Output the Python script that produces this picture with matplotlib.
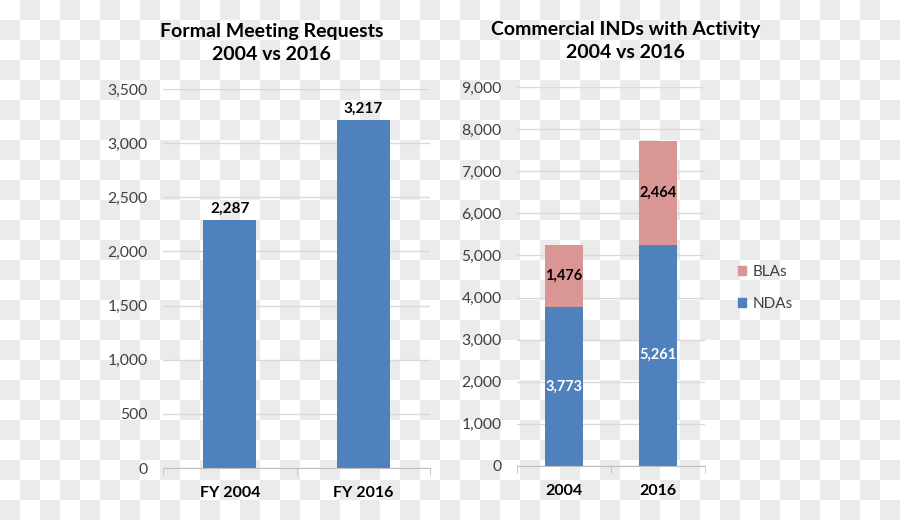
import numpy as np
import matplotlib
matplotlib.use("Agg")
import matplotlib.pyplot as plt
from matplotlib.patches import Patch

plt.rcParams['font.family'] = ['Lato', 'DejaVu Sans']

# ---- data ----
left_title = "Formal Meeting Requests\n2004 vs 2016"
left_cats = ["FY 2004", "FY 2016"]
left_vals = [2287, 3217]
left_ticks = [0, 500, 1000, 1500, 2000, 2500, 3000, 3500]

right_title = "Commercial INDs with Activity\n2004 vs 2016"
right_cats = ["2004", "2016"]
ndas = [3773, 5261]
blas = [1476, 2464]
right_ticks = [0, 1000, 2000, 3000, 4000, 5000, 6000, 7000, 8000, 9000]

BLUE = "#4f81bd"
PINK = "#d99694"
GRID = "#d9d9d9"

W, H = 900, 520
fig = plt.figure(figsize=(9, 5.2), dpi=100)

# checkerboard background (transparency pattern)
yy, xx = np.mgrid[0:H, 0:W]
chk = ((xx // 20 + yy // 20) % 2).astype(float)
bg = np.where(chk[..., None] == 1, np.array([0.925, 0.925, 0.925]), np.array([1.0, 1.0, 1.0]))
fig.figimage(bg, xo=0, yo=0, origin='upper', zorder=-10)


def ax_rect(x0, x1, ytop, ybot):
    return [x0 / W, 1 - ybot / H, (x1 - x0) / W, (ybot - ytop) / H]


def style(ax, ymax, ticks):
    ax.set_facecolor('none')
    ax.patch.set_alpha(0)
    for s in ['left', 'right', 'top']:
        ax.spines[s].set_visible(False)
    ax.spines['bottom'].set_color("#bfbfbf")
    ax.set_ylim(0, ymax)
    ax.set_yticks(ticks)
    ax.set_yticklabels([f"{t:,}" for t in ticks], fontsize=11.3, color="#404040")
    ax.tick_params(axis='y', length=0, pad=11)
    ax.grid(axis='y', color=GRID, linewidth=1)
    ax.set_axisbelow(True)
    ax.set_xlim(-0.5, 1.5)
    ax.set_xticks([-0.5, 0.5, 1.5], minor=True)
    ax.tick_params(axis='x', which='minor', length=5, color="#bfbfbf", direction='out')
    ax.tick_params(axis='x', which='major', length=0, pad=13)


# ---- left chart ----
axL = fig.add_axes(ax_rect(163, 430, 89, 468))
style(axL, 3500, left_ticks)
x = np.arange(len(left_cats))
axL.bar(x, left_vals, width=0.4, color=BLUE)
axL.set_xticks(x)
axL.set_xticklabels(left_cats, fontsize=11.5, fontweight='bold')
for xi, v in zip(x, left_vals):
    axL.annotate(f"{v:,}", (xi, v), xytext=(0, 3), textcoords='offset points',
                 ha='center', va='bottom', fontsize=11, fontweight='bold')
fig.text(271.5 / W, 1 - 43 / H, left_title, ha='center', va='center',
         fontsize=14, fontweight='bold', linespacing=1.4)

# ---- right chart ----
axR = fig.add_axes(ax_rect(517, 705, 87.3, 465.7))
style(axR, 9000, right_ticks)
x = np.arange(len(right_cats))
axR.bar(x, ndas, width=0.4, color=BLUE, label="NDAs")
axR.bar(x, blas, width=0.4, bottom=ndas, color=PINK, label="BLAs")
axR.set_xticks(x)
axR.set_xticklabels(right_cats, fontsize=11.5, fontweight='bold')
for xi, n, b in zip(x, ndas, blas):
    axR.text(xi, n / 2, f"{n:,}", ha='center', va='center', fontsize=10.5,
             fontweight='bold', color='white')
    axR.text(xi, n + b / 2, f"{b:,}", ha='center', va='center', fontsize=10.5,
             fontweight='bold', color='black')
fig.text(625.5 / W, 1 - 41 / H, right_title, ha='center', va='center',
         fontsize=14, fontweight='bold', linespacing=1.4)

handles = [Patch(color=PINK, label="BLAs"), Patch(color=BLUE, label="NDAs")]
fig.legend(handles=handles, loc='center left', bbox_to_anchor=(724 / W, 1 - 288 / H),
           frameon=False, fontsize=11, handlelength=0.55, handleheight=0.55,
           handletextpad=0.45, labelspacing=1.2, labelcolor="#404040")

fig.savefig("out.png", dpi=100)
